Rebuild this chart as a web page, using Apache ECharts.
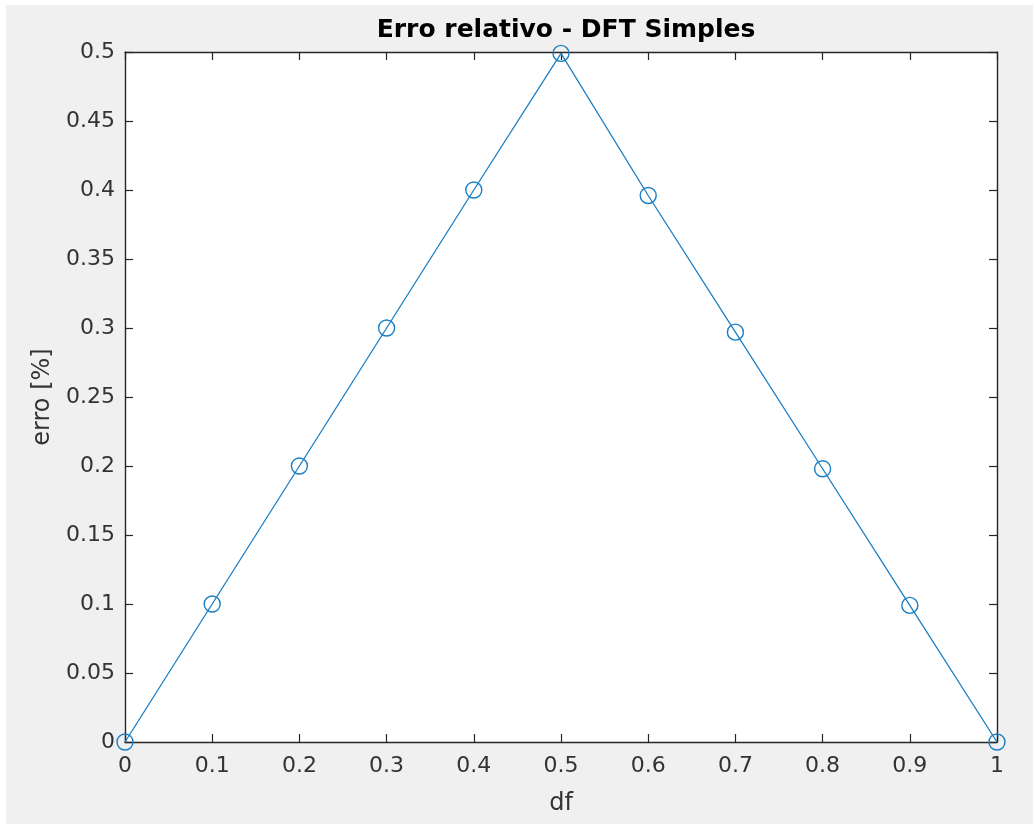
<!DOCTYPE html>
<html>
<head>
<meta charset="utf-8">
<script src="https://cdn.jsdelivr.net/npm/echarts@6/dist/echarts.min.js"></script>
<style>
  html, body { margin: 0; padding: 0; background: #ffffff; }
  #wrap { position: relative; width: 1035px; height: 824px; background: #ffffff; overflow: hidden; }
  #chart { position: absolute; left: 6px; top: 5px; width: 1027px; height: 819px; }
</style>
</head>
<body>
<div id="wrap"><div id="chart"></div></div>
<script>
// Data
const titleText = 'Erro relativo - DFT Simples';
const xName = 'df';
const yName = 'erro [%]';
const dfValues = [0, 0.1, 0.2, 0.3, 0.4, 0.5, 0.6, 0.7, 0.8, 0.9, 1];
const erroValues = [0, 0.1, 0.2, 0.3, 0.4, 0.499, 0.396, 0.297, 0.198, 0.099, 0];
const xTicks = [0, 0.1, 0.2, 0.3, 0.4, 0.5, 0.6, 0.7, 0.8, 0.9, 1];
const yTicks = [0, 0.05, 0.1, 0.15, 0.2, 0.25, 0.3, 0.35, 0.4, 0.45, 0.5];

const FONT = 'DejaVu Sans, Liberation Sans, Arial, sans-serif';
const AX = '#262626';
const LBL = '#333333';
const BLUE = '#1a7fc4';

const fmt = v => {
  const all = xTicks.concat(yTicks);
  const hit = all.find(t => Math.abs(t - v) < 1e-9);
  return hit !== undefined ? String(hit) : '';
};

const chart = echarts.init(document.getElementById('chart'), null, { renderer: 'canvas' });

const commonLine = { show: true, onZero: false, lineStyle: { color: AX, width: 1.4 } };
const commonTick = { show: true, inside: true, length: 8, lineStyle: { color: AX, width: 1.2 } };

chart.setOption({
  animation: false,
  backgroundColor: '#f0f0f0',
  title: {
    text: titleText,
    left: 555,
    top: 8,
    textAlign: 'center',
    textStyle: { fontFamily: FONT, fontWeight: 'bold', fontSize: 25, color: '#000000' }
  },
  grid: {
    left: 119, top: 47, right: 36, bottom: 82,
    show: true, backgroundColor: '#ffffff', borderWidth: 0
  },
  xAxis: [
    {
      type: 'value', position: 'bottom', min: 0, max: 1, interval: 0.1,
      name: xName, nameLocation: 'middle', nameGap: 50,
      nameTextStyle: { fontFamily: FONT, fontSize: 24, color: LBL },
      axisLine: commonLine, axisTick: commonTick,
      axisLabel: { fontFamily: FONT, fontSize: 22, color: LBL, margin: 13, formatter: fmt },
      splitLine: { show: false }
    },
    {
      type: 'value', position: 'top', min: 0, max: 1, interval: 0.1,
      axisLine: commonLine, axisTick: commonTick,
      axisLabel: { show: false }, splitLine: { show: false }
    }
  ],
  yAxis: [
    {
      type: 'value', position: 'left', min: 0, max: 0.5, interval: 0.05,
      name: yName, nameLocation: 'middle', nameGap: 70, nameRotate: 90,
      nameTextStyle: { fontFamily: FONT, fontSize: 24, color: LBL },
      axisLine: commonLine, axisTick: commonTick,
      axisLabel: { fontFamily: FONT, fontSize: 22, color: LBL, margin: 10, formatter: fmt },
      splitLine: { show: false }
    },
    {
      type: 'value', position: 'right', min: 0, max: 0.5, interval: 0.05,
      axisLine: commonLine, axisTick: commonTick,
      axisLabel: { show: false }, splitLine: { show: false }
    }
  ],
  series: [
    {
      type: 'line',
      xAxisIndex: 0, yAxisIndex: 0,
      data: dfValues.map((x, i) => [x, erroValues[i]]),
      clip: false,
      symbol: 'circle',
      symbolSize: 16,
      z: 5,
      lineStyle: { color: BLUE, width: 1.3 },
      itemStyle: { color: 'rgba(0,0,0,0)', borderColor: BLUE, borderWidth: 1.4 },
      emphasis: { disabled: true }
    }
  ]
});
</script>
</body>
</html>
